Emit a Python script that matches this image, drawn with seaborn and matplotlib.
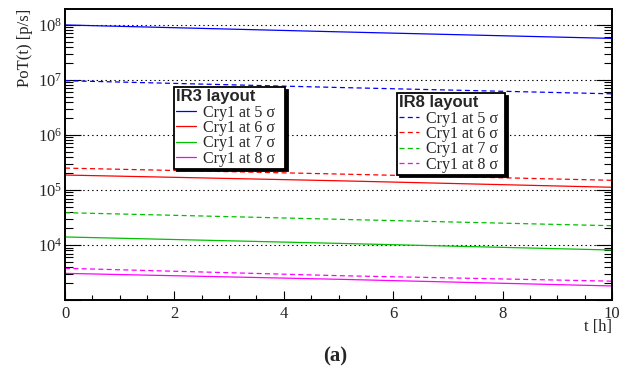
import matplotlib
matplotlib.use("Agg")
import matplotlib.pyplot as plt
import matplotlib.ticker as mticker
import numpy as np
import pandas as pd
import seaborn as sns

# Time samples [h]
t_hours = [0, 5, 10]

# IR3 layout, primary crystal at various retractions (solid lines)
ir3_5sigma = [1.00e8, 7.5e7, 5.7e7]
ir3_6sigma = [1.87e5, 1.47e5, 1.12e5]
ir3_7sigma = [1.40e4, 1.07e4, 8.1e3]
ir3_8sigma = [3.05e3, 2.38e3, 1.80e3]

# IR8 layout (dashed lines)
ir8_5sigma = [9.7e6, 7.3e6, 5.6e6]
ir8_6sigma = [2.50e5, 1.95e5, 1.50e5]
ir8_7sigma = [3.87e4, 2.93e4, 2.24e4]
ir8_8sigma = [3.77e3, 2.77e3, 2.20e3]

entry_labels = ["Cry1 at 5 σ", "Cry1 at 6 σ", "Cry1 at 7 σ", "Cry1 at 8 σ"]
colors = ["#0000ff", "#ff0000", "#00c000", "#ff00ff"]

sns.set_theme(style="white")
plt.rcParams["font.family"] = ["Liberation Serif", "DejaVu Serif"]
plt.rcParams["mathtext.fontset"] = "custom"
plt.rcParams["mathtext.rm"] = "Liberation Serif"
plt.rcParams["lines.scale_dashes"] = False

fig = plt.figure(figsize=(6.31, 3.73), dpi=100)
ax = fig.add_axes([65 / 631, 73 / 373, 547 / 631, 291 / 373])

dash = (3.6, 2.4)
ir3 = [ir3_5sigma, ir3_6sigma, ir3_7sigma, ir3_8sigma]
ir8 = [ir8_5sigma, ir8_6sigma, ir8_7sigma, ir8_8sigma]

h3, h8 = [], []
for vals, col in zip(ir3, colors):
    df = pd.DataFrame({"t": t_hours, "pot": vals})
    sns.lineplot(data=df, x="t", y="pot", ax=ax, color=col, lw=0.9,
                 legend=False)
    h3.append(ax.lines[-1])
for vals, col in zip(ir8, colors):
    df = pd.DataFrame({"t": t_hours, "pot": vals})
    sns.lineplot(data=df, x="t", y="pot", ax=ax, color=col, lw=0.9,
                 legend=False)
    ln = ax.lines[-1]
    ln.set_dashes(dash)
    h8.append(ln)

ax.set_yscale("log")
ax.set_xlim(0, 10)
ax.set_ylim(1e3, 1.95e8)
ax.set_xlabel("")
ax.set_ylabel("")

# decade grid, dotted
for d in [1e4, 1e5, 1e6, 1e7, 1e8]:
    ax.axhline(d, color="black", lw=0.8, ls=(0, (1, 2.2)), zorder=0.5)

# ticks inside, mirrored on the right
ax.xaxis.set_major_locator(mticker.MultipleLocator(2))
ax.xaxis.set_minor_locator(mticker.MultipleLocator(0.5))
ax.yaxis.set_major_locator(mticker.LogLocator(base=10))
ax.yaxis.set_minor_locator(mticker.LogLocator(base=10, subs=np.arange(2, 10)))
ax.yaxis.set_minor_formatter(mticker.NullFormatter())


def ylab(v, pos):
    e = int(round(np.log10(v)))
    if e < 4:
        return ""
    return r"$\mathdefault{10^{%d}}$" % e


ax.yaxis.set_major_formatter(mticker.FuncFormatter(ylab))
ax.xaxis.set_major_formatter(mticker.FormatStrFormatter("%d"))
ax.tick_params(axis="y", which="major", direction="in", length=11.5,
               width=0.8, labelsize=12, pad=2, left=True, right=True,
               color="black")
ax.tick_params(axis="y", which="minor", direction="in", length=5.8,
               width=0.8, left=True, right=True, color="black")
ax.tick_params(axis="x", which="major", direction="in", length=6.5,
               width=0.8, labelsize=12, pad=4, bottom=True, top=False,
               color="black")
ax.tick_params(axis="x", which="minor", direction="in", length=3.5,
               width=0.8, bottom=True, top=False, color="black")
for s in ax.spines.values():
    s.set_color("black")
    s.set_linewidth(1.4)

leg_kw = dict(frameon=True, fancybox=False, edgecolor="black",
              framealpha=1, prop={"family": "Liberation Serif", "size": 11.5},
              handlelength=1.25, handletextpad=0.45, borderpad=0.12,
              labelspacing=-0.04, borderaxespad=0, alignment="left",
              mode="expand",
              title_fontproperties={"family": "Liberation Sans",
                                    "weight": "bold", "size": 12},
              shadow={"color": "black", "alpha": 1})


def place_legend(handles, title, x0, y_top, width):
    leg = ax.legend(handles, entry_labels, title=title, loc="upper left",
                    bbox_to_anchor=(x0, y_top - 0.3, width, 0.3), **leg_kw)
    leg.get_frame().set_linewidth(1.3)
    leg._legend_box.sep = 0.5
    return leg


leg3 = place_legend(h3, "IR3 layout", 109 / 547, 213 / 291, 111 / 547)
ax.add_artist(leg3)
leg8 = place_legend(h8, "IR8 layout", 332 / 547, 207 / 291, 108 / 547)

fig.text(25 / 631, 1 - 9 / 373, "PoT(t) [p/s]", rotation=90, ha="center",
         va="top", fontsize=12)
fig.text(612 / 631, 1 - 319 / 373, "t [h]", ha="right", va="top",
         fontsize=12)
fig.text(335 / 631, 1 - 356 / 373, "(a)", ha="center", va="center",
         fontsize=15, fontweight="bold")

fig.savefig("out.png", dpi=100)
